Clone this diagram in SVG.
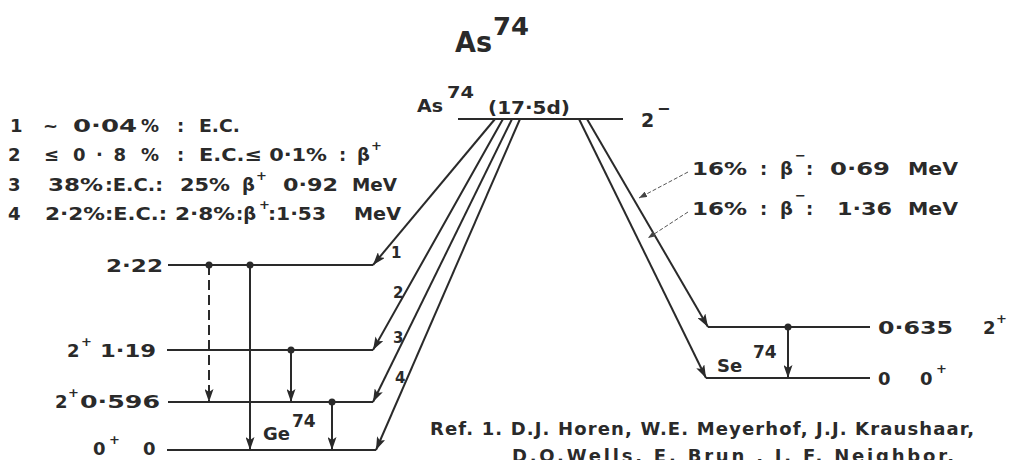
<svg xmlns="http://www.w3.org/2000/svg" width="1010" height="460" viewBox="0 0 1010 460">
<defs>
<style>
text{font-family:"DejaVu Sans","Liberation Sans",sans-serif;font-weight:bold;fill:#2a2a2a}
.t{font-size:18px}
.s{font-size:15px}
.lg{font-size:18px}
.lv{fill:none;stroke:#2a2a2a;stroke-width:2.2}
.ar{fill:none;stroke:#2a2a2a;stroke-width:2}
.ld{fill:none;stroke:#555;stroke-width:1;stroke-dasharray:4,2}
.dot{fill:#2a2a2a}
</style>
<marker id="ah" markerWidth="13" markerHeight="9" refX="13" refY="4.5" orient="auto" markerUnits="userSpaceOnUse">
<path d="M0,0 L13,4.5 L0,9 L3,4.5 z" fill="#2a2a2a"/>
</marker>
<marker id="sh" markerWidth="8" markerHeight="6" refX="8" refY="3" orient="auto" markerUnits="userSpaceOnUse">
<path d="M0,0 L8,3 L0,6 z" fill="#444"/>
</marker>
</defs>
<rect width="1010" height="460" fill="#ffffff"/>

<g id="title">
<text x="455" y="52" font-size="28" textLength="37" lengthAdjust="spacingAndGlyphs">As</text>
<text x="493" y="35" font-size="25" textLength="36" lengthAdjust="spacingAndGlyphs">74</text>
</g>

<g id="legend" class="lg">
<text x="10" y="132">1</text><text x="43" y="132">~</text><text x="73" y="132" textLength="64" lengthAdjust="spacingAndGlyphs">0·04</text><text x="141" y="132">%</text><text x="177" y="132">:</text><text x="199" y="132" textLength="41" lengthAdjust="spacingAndGlyphs">E.C.</text>
<text x="8" y="161">2</text><text x="44" y="161">≤</text><text x="73" y="161" textLength="53" lengthAdjust="spacing">0 · 8</text><text x="141" y="161">%</text><text x="177" y="161">:</text><text x="199" y="161" textLength="128" lengthAdjust="spacingAndGlyphs">E.C.≤ 0·1%</text><text x="339" y="161">:</text><text x="357" y="161">β</text><text x="371" y="150" font-size="13">+</text>
<text x="8" y="191">3</text><text x="48" y="191" textLength="55" lengthAdjust="spacingAndGlyphs">38%</text><text x="105" y="191" textLength="58" lengthAdjust="spacingAndGlyphs">:E.C.:</text><text x="180" y="191" textLength="50" lengthAdjust="spacingAndGlyphs">25%</text><text x="242" y="191">β</text><text x="256" y="180" font-size="13">+</text><text x="283" y="191" textLength="55" lengthAdjust="spacingAndGlyphs">0·92</text><text x="352" y="191" textLength="45" lengthAdjust="spacingAndGlyphs">MeV</text>
<text x="8" y="220">4</text><text x="45" y="220" textLength="60" lengthAdjust="spacingAndGlyphs">2·2%</text><text x="105" y="220" textLength="62" lengthAdjust="spacingAndGlyphs">:E.C.:</text><text x="175" y="220" textLength="60" lengthAdjust="spacingAndGlyphs">2·8%</text><text x="236" y="220">:β</text><text x="259" y="209" font-size="13">+</text><text x="268" y="220" textLength="58" lengthAdjust="spacingAndGlyphs">:1·53</text><text x="354" y="220" textLength="47" lengthAdjust="spacingAndGlyphs">MeV</text>
</g>

<g id="as74-level">
<path class="lv" d="M458,119 H623"/>
<text x="417" y="112" font-size="17" textLength="26" lengthAdjust="spacingAndGlyphs">As</text>
<text x="447" y="98" font-size="16" textLength="27" lengthAdjust="spacingAndGlyphs">74</text>
<text x="488" y="114" font-size="18" textLength="82" lengthAdjust="spacingAndGlyphs">(17·5d)</text>
<text x="641" y="127" font-size="19">2</text>
<text x="657" y="114" font-size="16">−</text>
</g>

<g id="ge-2.22">
<path class="lv" d="M168,265 H373"/>
<text class="t" x="163" y="272" text-anchor="end" textLength="57" lengthAdjust="spacingAndGlyphs">2·22</text>
</g>
<g id="ge-1.19">
<path class="lv" d="M167,350 H373"/>
<text class="t" x="67" y="357">2</text><text x="81" y="346" font-size="13">+</text>
<text class="t" x="100" y="357" textLength="56" lengthAdjust="spacingAndGlyphs">1·19</text>
</g>
<g id="ge-0.596">
<path class="lv" d="M168,402 H373"/>
<text class="t" x="55" y="408">2</text><text x="68" y="397" font-size="13">+</text>
<text class="t" x="80" y="408" textLength="80" lengthAdjust="spacingAndGlyphs">0·596</text>
</g>
<g id="ge-0">
<path class="lv" d="M167,450 H376"/>
<text class="t" x="93" y="455">0</text><text x="109" y="444" font-size="13">+</text>
<text class="t" x="143" y="455">0</text>
<text x="263" y="440" font-size="18">Ge</text>
<text x="292" y="427" font-size="17">74</text>
</g>

<g id="se-0.635">
<path class="lv" d="M708,327 H870"/>
<text class="t" x="878" y="334" textLength="75" lengthAdjust="spacingAndGlyphs">0·635</text>
<text class="t" x="983" y="334">2</text><text x="996" y="323" font-size="13">+</text>
</g>
<g id="se-0">
<path class="lv" d="M706,378 H870"/>
<text class="t" x="878" y="385">0</text>
<text class="t" x="920" y="385">0</text><text x="936" y="373" font-size="13">+</text>
<text x="717" y="372" font-size="18">Se</text>
<text x="753" y="358" font-size="17">74</text>
</g>

<g id="beta-labels" class="lg">
<text x="692" y="175" textLength="55" lengthAdjust="spacingAndGlyphs">16%</text><text x="760" y="175">:</text><text x="780" y="175">β</text><text x="795" y="160" font-size="13">−</text><text x="806" y="175">:</text><text x="830" y="175" textLength="60" lengthAdjust="spacingAndGlyphs">0·69</text><text x="908" y="175" textLength="50" lengthAdjust="spacingAndGlyphs">MeV</text>
<text x="692" y="215" textLength="55" lengthAdjust="spacingAndGlyphs">16%</text><text x="760" y="215">:</text><text x="780" y="215">β</text><text x="795" y="200" font-size="13">−</text><text x="806" y="215">:</text><text x="837" y="215" textLength="55" lengthAdjust="spacingAndGlyphs">1·36</text><text x="908" y="215" textLength="50" lengthAdjust="spacingAndGlyphs">MeV</text>
</g>

<g id="reference">
<text x="430" y="435" font-size="18" textLength="544" lengthAdjust="spacing">Ref. 1. D.J. Horen, W.E. Meyerhof, J.J. Kraushaar,</text>
<text x="512" y="462" font-size="18" textLength="442" lengthAdjust="spacing">D.O.Wells, E. Brun , J. F. Neighbor,</text>
</g>

<g id="connectors">
<path class="ar" d="M495,119 L373,265" marker-end="url(#ah)"/>
<path class="ar" d="M503,119 L373,350" marker-end="url(#ah)"/>
<path class="ar" d="M512,119 L373,402" marker-end="url(#ah)"/>
<path class="ar" d="M520,119 L376,450" marker-end="url(#ah)"/>
<path class="ar" d="M587,119 L708,327" marker-end="url(#ah)"/>
<path class="ar" d="M579,119 L706,378" marker-end="url(#ah)"/>
<path class="ar" d="M209,265 V402" stroke-dasharray="10,5" marker-end="url(#ah)"/>
<path class="ar" d="M250,265 V450" marker-end="url(#ah)"/>
<path class="ar" d="M291,350 V402" marker-end="url(#ah)"/>
<path class="ar" d="M332,402 V450" marker-end="url(#ah)"/>
<path class="ar" d="M788,327 V378" marker-end="url(#ah)"/>
<circle class="dot" cx="209" cy="265" r="3.5"/>
<circle class="dot" cx="250" cy="265" r="3.5"/>
<circle class="dot" cx="291" cy="350" r="3.5"/>
<circle class="dot" cx="332" cy="402" r="3.5"/>
<circle class="dot" cx="788" cy="327" r="3.5"/>
<path class="ld" d="M688,172 L639,198" marker-end="url(#sh)"/>
<path class="ld" d="M688,212 L648,238" marker-end="url(#sh)"/>
<text class="s" x="391" y="258">1</text>
<text class="s" x="393" y="298">2</text>
<text class="s" x="393" y="343">3</text>
<text class="s" x="395" y="383">4</text>
</g>
</svg>
